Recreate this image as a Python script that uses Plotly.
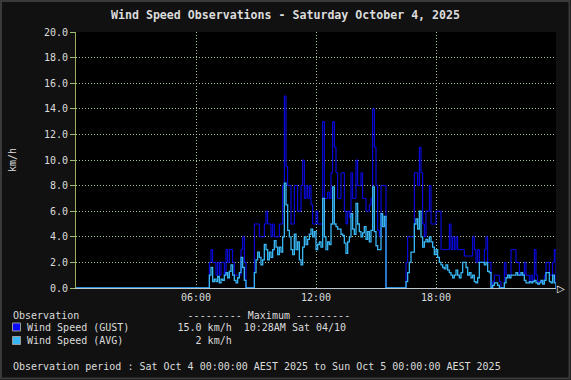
import plotly.graph_objects as go
import pandas as pd

# ---------------- data (5-minute observations, km/h) ----------------
day_start = "2025-10-04 00:00"
day_end = "2025-10-05 00:00"
first_slot = "2025-10-04 06:40"

gust_06 = [2, 3, 2, 2]
gust_07 = [1, 2, 1, 2, 2, 1, 3, 2, 3, 3, 2, 1]
gust_08 = [1, 1, 1, 3, 4, 2, 0, 0, 0, 0, 0, 5]
gust_09 = [5, 5, 4, 4, 4, 5, 6, 5, 5, 4, 5, 4]
gust_10 = [4, 4, 5, 5, 8, 15, 9.5, 8, 8, 5, 5, 8]
gust_11 = [8, 6, 6, 8, 10, 7, 8, 7, 8, 6.5, 5, 5]
gust_12 = [6, 5, 5, 5, 13, 7, 7, 7.5, 7, 9, 13, 11]
gust_13 = [9, 7, 7, 9, 9, 6, 5, 6, 5.5, 9, 7, 7]
gust_14 = [10, 8, 8, 9, 7, 7, 6, 6, 6.5, 7, 14, 11]
gust_15 = [8, 4.5, 4, 8, 8, 8, 0, 0, 0, 0, 0, 0]
gust_16 = [0, 0, 0, 0, 0, 0, 2, 4, 4, 4, 4, 9]
gust_17 = [9, 8, 11, 9, 5, 4, 6, 6, 8, 5, 5, 5]
gust_18 = [6, 6, 6, 3, 3, 3, 3, 3, 5, 3, 4, 3]
gust_19 = [4, 3, 3, 3, 3, 2.5, 2.5, 2.5, 2.5, 2.5, 4, 3]
gust_20 = [2, 3, 2, 2, 2, 3, 4, 2, 2, 0, 0.5, 1]
gust_21 = [1, 1, 0.5, 0, 0, 2, 1, 1, 1, 3, 3, 3]
gust_22 = [2, 2, 1, 1, 1, 2, 1, 1, 0.5, 1, 0.5, 3]
gust_23 = [1, 0.5, 0.5, 0.5, 0.5, 1, 2, 2, 1, 1, 2, 3]

avg_06 = [1.0, 1.6, 0.5, 0.7]
avg_07 = [0.5, 0.9, 0.4, 0.7, 0.6, 1.0, 1.2, 0.8, 1.3, 1.8, 1.0, 0.6]
avg_08 = [0.4, 0.8, 1.2, 2.4, 1.6, 0.6, 0, 0, 0, 0, 0, 1.2]
avg_09 = [2.2, 2.8, 2.4, 1.8, 2.2, 3.4, 3.0, 2.2, 2.8, 2.4, 3.0, 3.7]
avg_10 = [3.2, 2.6, 3.2, 2.8, 4.0, 8.2, 6.5, 4.5, 4.0, 3.0, 2.6, 4.2]
avg_11 = [3.0, 3.6, 2.2, 1.8, 3.2, 4.0, 3.4, 3.8, 4.2, 4.6, 4.0, 4.4]
avg_12 = [3.0, 3.4, 3.6, 3.2, 7.0, 4.0, 3.0, 3.6, 3.4, 5.0, 7.9, 5.0]
avg_13 = [4.8, 4.6, 4.6, 4.2, 4.1, 3.5, 2.7, 3.6, 4.0, 5.8, 4.6, 4.2]
avg_14 = [6.6, 5.0, 4.4, 4.0, 4.3, 4.8, 3.8, 4.4, 3.6, 4.5, 7.9, 4.4]
avg_15 = [3.3, 3.0, 3.0, 5.8, 4.8, 5.6, 0, 0, 0, 0, 0, 0]
avg_16 = [0, 0, 0, 0, 0, 0, 0.5, 1.2, 2.0, 2.8, 2.8, 5.0]
avg_17 = [5.4, 4.6, 6.0, 4.0, 3.2, 3.6, 3.8, 3.6, 4.0, 3.6, 3.2, 2.6]
avg_18 = [3.0, 2.4, 2.0, 1.8, 1.6, 1.5, 1.8, 1.4, 1.2, 1.0, 0.8, 1.0]
avg_19 = [1.4, 1.0, 0.8, 1.2, 2.0, 2.0, 1.6, 1.0, 1.2, 0.8, 1.0, 0.5]
avg_20 = [0.4, 0.8, 2.0, 2.0, 2.0, 1.8, 2.0, 1.3, 1.2, 0, 0.2, 0.4]
avg_21 = [0.4, 0.2, 0, 0, 0, 0.4, 0.8, 1.0, 0.8, 1.0, 1.0, 1.0]
avg_22 = [1.2, 1.0, 1.0, 1.2, 1.0, 0.6, 0.4, 0.4, 0.5, 0.4, 0.5, 0.6]
avg_23 = [0.4, 0.3, 0.4, 0.6, 0.3, 0.6, 1.2, 1.2, 0.5, 0.4, 1.0, 0.4]

tick_times = ["2025-10-04 06:00", "2025-10-04 12:00", "2025-10-04 18:00"]
tick_labels = ["06:00", "12:00", "18:00"]
y_ticks = [0, 2, 4, 6, 8, 10, 12, 14, 16, 18, 20]

title_text = "Wind Speed Observations - Saturday October 4, 2025"
gust_name = "Wind Speed (GUST)"
avg_name = "Wind Speed (AVG)"
gust_max = "15.0 km/h"
gust_max_time = "10:28AM Sat 04/10"
avg_max = "2 km/h"
period_text = "Observation period : Sat Oct 4 00:00:00 AEST 2025 to Sun Oct 5 00:00:00 AEST 2025"

gust = (gust_06 + gust_07 + gust_08 + gust_09 + gust_10 + gust_11 + gust_12 + gust_13 +
        gust_14 + gust_15 + gust_16 + gust_17 + gust_18 + gust_19 + gust_20 + gust_21 +
        gust_22 + gust_23)
avg = (avg_06 + avg_07 + avg_08 + avg_09 + avg_10 + avg_11 + avg_12 + avg_13 +
       avg_14 + avg_15 + avg_16 + avg_17 + avg_18 + avg_19 + avg_20 + avg_21 +
       avg_22 + avg_23)
slots = list(pd.date_range(first_slot, periods=len(gust), freq="5min"))
times = [pd.Timestamp(day_start)] + slots + [pd.Timestamp(day_end)]
gust_y = [0] + gust + [0]
avg_y = [0] + avg + [0]

# ---------------- styling ----------------
W, H = 571, 380
PL, PR, PT, PB = 76, 556, 32, 288
MONO = "DejaVu Sans Mono"
TXT = "#dcdcdc"
GRID = "#a3c79a"
GUST_C = "#0a0aff"
AVG_C = "#38b6f4"
DOT = "1px,2px"


def px(x):
    return (x - PL) / (PR - PL)


def py(y):
    return (PB - y) / (PB - PT)


def nb(s):
    return s.replace(" ", "\u00a0")


fig = go.Figure()
fig.add_trace(go.Scatter(x=times, y=gust_y, mode="lines", line=dict(color=GUST_C, width=1, shape="hv"),
                         name=gust_name, hoverinfo="skip"))
fig.add_trace(go.Scatter(x=times, y=avg_y, mode="lines", line=dict(color=AVG_C, width=1.3, shape="hv"),
                         name=avg_name, hoverinfo="skip"))

fig.update_layout(
    width=W, height=H,
    margin=dict(l=PL, r=W - PR, t=PT, b=H - PB, pad=0),
    paper_bgcolor="#111111", plot_bgcolor="#000000",
    showlegend=False,
    font=dict(family=MONO, size=10, color=TXT),
    xaxis=dict(type="date", range=[day_start, day_end], tickvals=tick_times, ticktext=tick_labels,
               showgrid=True, gridcolor=GRID, griddash=DOT, gridwidth=1, ticks="",
               showline=True, linecolor="#bfc8cc", linewidth=1, zeroline=False,
               tickfont=dict(family=MONO, size=10, color=TXT), fixedrange=True),
    xaxis2=dict(type="date", range=[day_start, day_end], tickvals=tick_times, overlaying="x",
                side="top", showticklabels=False, ticks="outside", ticklen=3, tickcolor=GRID,
                showgrid=False, showline=False, zeroline=False),
    yaxis=dict(range=[0, 20], tickvals=y_ticks, tickformat=".1f", showgrid=True, gridcolor=GRID,
               griddash=DOT, gridwidth=1, ticks="outside", ticklen=5, tickcolor="#9cc07a",
               showline=True, linecolor="#9aad58", linewidth=1, zeroline=False,
               tickfont=dict(family=MONO, size=10, color=TXT), fixedrange=True),
    yaxis2=dict(range=[0, 20], tickvals=y_ticks, overlaying="y", side="right", showticklabels=False,
                ticks="outside", ticklen=3, tickcolor=GRID, showgrid=False, showline=True,
                linecolor="#8e8e3a", linewidth=1, zeroline=False),
)

ann = []
ann.append(dict(text=title_text, x=px(285.5), y=py(15), xref="paper", yref="paper", showarrow=False,
                xanchor="center", yanchor="middle", font=dict(family=MONO, size=11.6, color=TXT, weight="bold")))
ann.append(dict(text="km/h", x=px(12), y=py(160), xref="paper", yref="paper", showarrow=False,
                textangle=-90, xanchor="center", yanchor="middle", font=dict(family=MONO, size=10, color=TXT)))
ann.append(dict(text="\u25b7", x=px(561), y=py(288), xref="paper", yref="paper", showarrow=False,
                xanchor="center", yanchor="middle", font=dict(family="DejaVu Sans", size=10, color="#ffffff")))

row0 = "Observation" + " " * 18 + "--------- Maximum ---------"
row1 = gust_name + " " * (25 - len(gust_name)) + gust_max.rjust(9) + "  " + gust_max_time
row2 = avg_name + " " * (25 - len(avg_name)) + avg_max.rjust(9)
for text, x, y in [(row0, 11, 315), (row1, 25, 327.5), (row2, 25, 340.5), (period_text, 11, 366.5)]:
    ann.append(dict(text=nb(text), x=px(x), y=py(y), xref="paper", yref="paper", showarrow=False,
                    xanchor="left", yanchor="middle", font=dict(family=MONO, size=10, color=TXT)))
fig.update_layout(annotations=ann)

shapes = [
    dict(type="rect", xref="paper", yref="paper", x0=px(12.5), x1=px(20.5), y0=py(323), y1=py(331),
         fillcolor=GUST_C, line=dict(color="#9a9a9a", width=1)),
    dict(type="rect", xref="paper", yref="paper", x0=px(12.5), x1=px(20.5), y0=py(336.5), y1=py(344.5),
         fillcolor=AVG_C, line=dict(color="#9a9a9a", width=1)),
    dict(type="rect", xref="paper", yref="paper", x0=px(1), x1=px(569.5), y0=py(1), y1=py(378.5),
         fillcolor="rgba(0,0,0,0)", line=dict(color="#3a3a3a", width=2)),
]
fig.update_layout(shapes=shapes)

fig.write_html("out.html", config={"displayModeBar": False, "staticPlot": True},
               post_script="document.body.style.margin='0';document.body.style.background='#111111';")
